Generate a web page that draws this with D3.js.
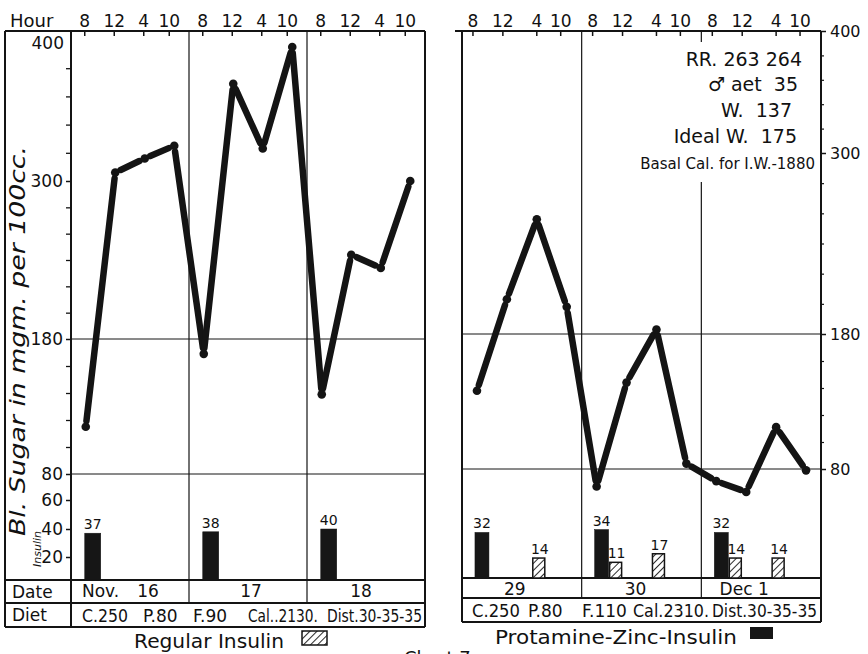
<!DOCTYPE html>
<html><head><meta charset="utf-8">
<script src="https://cdn.jsdelivr.net/npm/d3@7"></script>
<style>
html,body{margin:0;padding:0;background:#fff;}
svg text{font-family:"DejaVu Sans",sans-serif;fill:#111;white-space:pre;}
</style></head>
<body><svg id="c" width="868" height="654"></svg>
<script>
// ---------- data ----------
const hours = ["8","12","4","10"];
const leftDays = ["16","17","18"];
const rightDays = ["29","30","Dec 1"];
const sugarTicks = [80,180,300,400];
const insulinTicks = [20,40,60];
// blood sugar, 4 readings per day (8, 12, 4, 10)
const leftSugar  = [115,306,316,325, 169,369,323,395, 139,244,234,300];
const rightSugar = [138,203,256,198, 67,144,183,84, 71,63,111,79];
// insulin doses
const leftDoses  = [{day:0,hour:0,v:37,type:"dark",pos:0},{day:1,hour:0,v:38,type:"dark",pos:0},{day:2,hour:0,v:40,type:"dark",pos:0}];
const rightPZI   = [{day:0,hour:0,v:32,type:"pzi",pos:0},{day:1,hour:0,v:34,type:"pzi",pos:0},{day:2,hour:0,v:32,type:"pzi",pos:0}];
const rightReg   = [{day:0,hour:2,v:14,type:"reg",pos:0},{day:1,hour:0,v:11,type:"reg",pos:1},{day:1,hour:2,v:17,type:"reg",pos:0},{day:2,hour:0,v:14,type:"reg",pos:1},{day:2,hour:2,v:14,type:"reg",pos:0}];
const leftDiet  = ["C.250","P.80","F.90","Cal..2130.","Dist.30-35-35"];
const rightDiet = ["C.250","P.80","F.110","Cal.2310.","Dist.30-35-35"];
const notes = ["RR. 263 264","\u2642 aet  35","W.  137","Ideal W.  175","Basal Cal. for I.W.-1880"];

// ---------- setup ----------
const svg = d3.select("#c");
const ink = "#141414";
const defs = svg.append("defs");
const pat = defs.append("pattern").attr("id","hatch").attr("patternUnits","userSpaceOnUse")
  .attr("width",5).attr("height",5).attr("patternTransform","rotate(45)");
pat.append("rect").attr("width",5).attr("height",5).attr("fill","#fff");
pat.append("line").attr("x1",0).attr("y1",0).attr("x2",0).attr("y2",5).attr("stroke",ink).attr("stroke-width",1.8);

const slots = d3.range(12);
const xL = d3.scaleBand().domain(slots).range([71,425]);
const xR = d3.scaleBand().domain(slots).range([462,821]);
const yL = d3.scaleLinear().domain(sugarTicks).range([474,339,181,40]);
const yR = d3.scaleLinear().domain(sugarTicks).range([469,334,153,31]);
const iL = d3.scaleLinear().domain([0,20,40,60]).range([580,557,529,500]);
const iR = d3.scaleLinear().domain([0,40]).range([578,521]);
const minor = d3.range(100,400,20).filter(v=>!sugarTicks.includes(v));

function line(x1,y1,x2,y2,w){svg.append("line").attr("x1",x1).attr("y1",y1).attr("x2",x2).attr("y2",y2).attr("stroke",ink).attr("stroke-width",w||1.6);}
function txt(s,x,y,size,anchor,extra){const t=svg.append("text").attr("x",x).attr("y",y).attr("font-size",size).attr("text-anchor",anchor||"start").text(s);if(extra)extra(t);return t;}

function panel(x, y, days, diet, opt){
  const L = x.range()[0], R = x.range()[1];
  const top = 31, base = opt.base, dateB = opt.dateB, dietB = opt.dietB;
  [80,180].forEach(v=>line(L,y(v),R,y(v),1));
  [4,8].forEach(s=>line(x(s),top,x(s),dateB,1.2));
  line(L,top,R,top,2); line(R,top,R,dietB,2); line(L,top,L,dietB,2);
  line(opt.outerL,base,R,base,1.8); line(opt.outerL,dateB,R,dateB,1.8); line(opt.outerL,dietB,R,dietB,2);
  slots.forEach(s=>{
    const cx = x(s)+x.bandwidth()/2 + opt.tickShift[s%4];
    line(cx,top,cx,top+5,1.5);
    txt(hours[s%4],cx,27,17,"middle");
  });
  days.forEach((d,i)=>{
    const cx = x(i*4)+x.bandwidth()*2;
    txt(d,cx+opt.dateShift[i],base+17,17,"middle");
  });
  diet.forEach((d,i)=>{
    txt(d,opt.dietX[i],dietB-5,17,"start",t=>{ if(opt.dietW[i]) t.attr("textLength",opt.dietW[i]).attr("lengthAdjust","spacingAndGlyphs"); });
  });
}

// ----- left panel -----
panel(xL,yL,leftDays,leftDiet,{
  base:580,dateB:603,dietB:627,outerL:5,
  tickShift:[-1,-1,-1,-5], dateShift:[18,3,-5],
  dietX:[82,143,193,248,327], dietW:[46,0,0,70,95]
});
line(5,31,71,31,2); line(5,31,5,627,2);
txt("Hour",10,27,18,"start");
txt("Nov.",82,597,17,"start");
txt("Date",12,598,17,"start");
txt("Diet",12,621,17,"start");

// left y axis (sugar)
const axL = svg.append("g").attr("transform","translate(71,0)")
  .call(d3.axisLeft(yL).tickValues(sugarTicks.filter(v=>v<400)).tickSize(5).tickPadding(3).tickFormat(d3.format("d")));
axL.select(".domain").remove();
axL.selectAll("line").attr("stroke",ink).attr("stroke-width",1.5);
axL.selectAll("text").attr("font-size",17).attr("font-family","DejaVu Sans").attr("fill",ink);
txt("400",64,49,17,"end");
const axLm = svg.append("g").attr("transform","translate(71,0)")
  .call(d3.axisLeft(yL).tickValues(minor).tickSize(5).tickFormat(""));
axLm.select(".domain").remove(); axLm.selectAll("line").attr("stroke",ink).attr("stroke-width",1.3);
const axI = svg.append("g").attr("transform","translate(71,0)")
  .call(d3.axisLeft(iL).tickValues(insulinTicks).tickSize(5).tickPadding(3).tickFormat(d3.format("d")));
axI.select(".domain").remove();
axI.selectAll("line").attr("stroke",ink).attr("stroke-width",1.5);
axI.selectAll("text").attr("font-size",17).attr("font-family","DejaVu Sans").attr("fill",ink);

txt("Bl. Sugar in mgm. per 100cc.",0,0,21,"middle",t=>t.attr("transform","translate(25,341) rotate(-90)")
  .attr("font-style","italic").attr("textLength",390).attr("lengthAdjust","spacingAndGlyphs"));
txt("Insulin",0,0,11,"middle",t=>t.attr("transform","translate(41,549) rotate(-90)").attr("font-style","italic"));

// ----- right panel -----
panel(xR,yR,rightDays,rightDiet,{
  base:578,dateB:598,dietB:622,outerL:462,
  tickShift:[-4,-4,0,-6], dateShift:[-7,-6,-17],
  dietX:[472,528,582,633,712], dietW:[48,0,0,76,105]
});
svg.append("rect").attr("x",630).attr("y",42).attr("width",186).attr("height",140).attr("fill","#fff");
line(455,31,462,31,2);
const axR = svg.append("g").attr("transform","translate(821,0)")
  .call(d3.axisRight(yR).tickValues(sugarTicks).tickSize(5).tickPadding(4).tickFormat(d3.format("d")));
axR.select(".domain").remove();
axR.selectAll("line").attr("stroke",ink).attr("stroke-width",1.5);
axR.selectAll("text").attr("font-size",16).attr("font-family","DejaVu Sans").attr("fill",ink);
const axRm = svg.append("g").attr("transform","translate(821,0)")
  .call(d3.axisRight(yR).tickValues(minor).tickSize(3).tickFormat(""));
axRm.select(".domain").remove(); axRm.selectAll("line").attr("stroke",ink).attr("stroke-width",1.2);

const noteY=[66,91,117,143,169], noteR=[802,798,792,797,815], noteS=[19,19,19,19,15];
notes.forEach((n,i)=>txt(n,noteR[i],noteY[i],noteS[i],"end"));

// ----- bars -----
function bars(x, iy, data, conf){
  data.forEach(d=>{
    const cx = x(d.day*4+d.hour)+x.bandwidth()/2;
    const c = conf[d.type];
    const bx = cx + c.off + d.pos*c.pairOff;
    const yTop = iy(d.v), y0 = iy(0);
    svg.append("rect").attr("x",bx).attr("y",yTop).attr("width",c.w).attr("height",y0-yTop)
      .attr("fill",d.type==="reg"?"url(#hatch)":"#161616")
      .attr("stroke",ink).attr("stroke-width",d.type==="reg"?1.5:0.5);
    txt(d3.format("d")(d.v), bx+c.w/2+(c.labShift||0), yTop-4, 14, "middle");
  });
}
const barConf = {
  dark:{off:-1,w:16,pairOff:0},
  pzi:{off:-2,w:14,pairOff:0},
  reg:{off:-4,w:12,pairOff:17,labShift:1}
};
bars(xL,iL,leftDoses,barConf);
bars(xR,iR,rightPZI,barConf);
bars(xR,iR,rightReg,barConf);

// ----- blood sugar lines -----
function sugarLine(x,y,vals){
  const pts = vals.map((v,i)=>[x(i)+x.bandwidth()/2, y(v)]);
  const g = svg.append("g");
  for(let i=0;i<pts.length-1;i++){
    const [x1,y1]=pts[i],[x2,y2]=pts[i+1];
    const dx=x2-x1, dy=y2-y1, len=Math.hypot(dx,dy), gap=6;
    g.append("line").attr("x1",x1+dx/len*gap).attr("y1",y1+dy/len*gap)
      .attr("x2",x2-dx/len*gap).attr("y2",y2-dy/len*gap)
      .attr("stroke",ink).attr("stroke-width",6.5).attr("stroke-linecap","round");
  }
  g.selectAll("circle").data(pts).join("circle").attr("cx",d=>d[0]).attr("cy",d=>d[1]).attr("r",4.3).attr("fill",ink);
}
sugarLine(xL,yL,leftSugar);
sugarLine(xR,yR,rightSugar);

// ----- legend -----
txt("Regular Insulin",134,648,19,"start",t=>t.attr("textLength",150).attr("lengthAdjust","spacingAndGlyphs"));
svg.append("rect").attr("x",302).attr("y",631).attr("width",25).attr("height",14).attr("fill","url(#hatch)").attr("stroke",ink).attr("stroke-width",1.5);
txt("Protamine-Zinc-Insulin",495,644,19,"start",t=>t.attr("textLength",242).attr("lengthAdjust","spacingAndGlyphs"));
svg.append("rect").attr("x",750).attr("y",627).attr("width",23).attr("height",12).attr("fill","#161616");
txt("Chart 7",404,664,18,"start");
</script></body></html>
